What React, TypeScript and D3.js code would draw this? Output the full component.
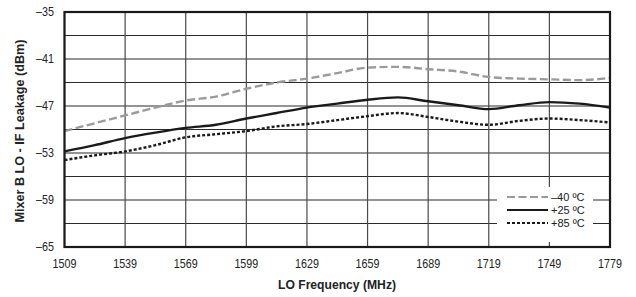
import { useEffect, useRef } from "react";
import * as d3 from "d3";

// LO frequency points (MHz)
const freqs = [
  1509, 1524, 1539, 1554, 1569, 1584, 1599, 1614, 1629, 1644, 1659, 1674, 1689,
  1704, 1719, 1734, 1749, 1764, 1779,
];

// LO-IF leakage (dBm) for each temperature
const minus40 = [
  -50.2, -49.2, -48.2, -47.2, -46.3, -45.8, -44.8, -44.0, -43.5, -42.8, -42.1,
  -42.0, -42.3, -42.6, -43.3, -43.5, -43.6, -43.7, -43.4,
];
const plus25 = [
  -52.8, -52.0, -51.1, -50.4, -49.8, -49.4, -48.6, -47.9, -47.2, -46.7, -46.2,
  -45.9, -46.4, -46.9, -47.4, -46.9, -46.5, -46.7, -47.2,
];
const plus85 = [
  -53.9, -53.3, -52.8, -52.0, -51.0, -50.6, -50.2, -49.6, -49.3, -48.8, -48.3,
  -47.9, -48.4, -49.0, -49.4, -48.9, -48.6, -48.8, -49.1,
];

const xTicks = [1509, 1539, 1569, 1599, 1629, 1659, 1689, 1719, 1749, 1779];
const yGrid = d3.range(-65, -34, 3);
const yLabels = [-35, -41, -47, -53, -59, -65];

const seriesNames = ["\u201340 \u00baC", "+25 \u00baC", "+85 \u00baC"];

const width = 636;
const height = 297;
const font = "'Liberation Sans', Arial, sans-serif";
const squeeze = 0.86; // the original uses a condensed face

export default function App() {
  const svgRef = useRef<SVGSVGElement>(null);

  useEffect(() => {
    const svg = d3.select(svgRef.current);
    svg.selectAll("*").remove();

    const x = d3.scaleLinear([1509, 1779], [64.5, 610]);
    const y = d3.scaleLinear([-65, -35], [247, 12]);

    const styles = [
      { stroke: "#9a9a9a", dash: "8,3.5" },
      { stroke: "#1a1a1a", dash: null },
      { stroke: "#1a1a1a", dash: "3,2" },
    ];

    // grid
    const grid = svg.append("g");
    grid
      .selectAll("line.h")
      .data(yGrid)
      .join("line")
      .attr("x1", x(1509))
      .attr("x2", x(1779))
      .attr("y1", (d) => y(d))
      .attr("y2", (d) => y(d))
      .attr("stroke", "#2a2a2a")
      .attr("stroke-width", 1.2);
    grid
      .selectAll("line.v")
      .data(xTicks)
      .join("line")
      .attr("x1", (d) => x(d))
      .attr("x2", (d) => x(d))
      .attr("y1", y(-35))
      .attr("y2", y(-65))
      .attr("stroke", "#4a4a4a")
      .attr("stroke-width", 1.2);

    // legend background blanks the grid behind it
    svg
      .append("rect")
      .attr("x", 497)
      .attr("y", 187)
      .attr("width", 96)
      .attr("height", 55)
      .attr("fill", "#fff");

    const line = d3
      .line<number>()
      .x((d, i) => x(freqs[i]))
      .y((d) => y(d))
      .curve(d3.curveMonotoneX);

    [minus40, plus25, plus85].forEach((vals, k) => {
      svg
        .append("path")
        .attr("d", line(vals))
        .attr("fill", "none")
        .attr("stroke", styles[k].stroke)
        .attr("stroke-width", 2.4)
        .attr("stroke-dasharray", styles[k].dash);
    });

    // frame
    svg
      .append("rect")
      .attr("x", x(1509))
      .attr("y", y(-35))
      .attr("width", x(1779) - x(1509))
      .attr("height", y(-65) - y(-35))
      .attr("fill", "none")
      .attr("stroke", "#1a1a1a")
      .attr("stroke-width", 2.2);

    // tick labels
    svg
      .append("g")
      .selectAll("text")
      .data(xTicks)
      .join("text")
      .attr("transform", (d) => `translate(${x(d)},268) scale(${squeeze},1)`)
      .attr("text-anchor", "middle")
      .attr("font-size", 12.5)
      .attr("fill", "#222")
      .text((d) => d);

    svg
      .append("g")
      .selectAll("text")
      .data(yLabels)
      .join("text")
      .attr("transform", (d) => `translate(54,${y(d)}) scale(${squeeze},1)`)
      .attr("dy", "0.35em")
      .attr("text-anchor", "end")
      .attr("font-size", 12.5)
      .attr("fill", "#222")
      .text((d) => "\u2013" + Math.abs(d));

    // axis titles
    svg
      .append("text")
      .attr("x", 337)
      .attr("y", 289)
      .attr("text-anchor", "middle")
      .attr("font-size", 13.5)
      .attr("font-weight", "bold")
      .attr("fill", "#222")
      .attr("textLength", 118)
      .attr("lengthAdjust", "spacingAndGlyphs")
      .text("LO Frequency (MHz)");

    svg
      .append("text")
      .attr("transform", "translate(24,131) rotate(-90)")
      .attr("text-anchor", "middle")
      .attr("font-size", 13.5)
      .attr("font-weight", "bold")
      .attr("fill", "#222")
      .attr("textLength", 183)
      .attr("lengthAdjust", "spacingAndGlyphs")
      .text("Mixer B LO - IF Leakage (dBm)");

    // legend
    const leg = svg
      .append("g")
      .selectAll("g")
      .data(seriesNames)
      .join("g")
      .attr("transform", (d, i) => `translate(507,${[197, 210, 223][i]})`);
    leg
      .append("line")
      .attr("x1", 0)
      .attr("x2", 41)
      .attr("stroke", (d, i) => styles[i].stroke)
      .attr("stroke-width", 2.2)
      .attr("stroke-dasharray", (d, i) => styles[i].dash);
    leg
      .append("text")
      .attr("x", 44)
      .attr("dy", "0.35em")
      .attr("font-size", 11)
      .attr("fill", "#222")
      .text((d) => d);
  }, []);

  return (
    <div style={{ position: "absolute", left: 0, top: 0 }}>
      <svg
        ref={svgRef}
        width={width}
        height={height}
        style={{ display: "block", fontFamily: font, background: "#fff" }}
      ></svg>
    </div>
  );
}
